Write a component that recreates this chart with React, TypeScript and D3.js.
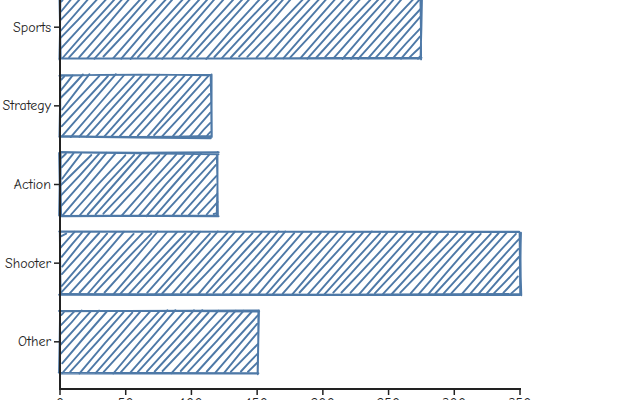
import React from 'react';
import * as d3 from 'd3';

// Sales by genre (the top of the chart is cropped in the reference)
const categories = ['Sports', 'Strategy', 'Action', 'Shooter', 'Other'];
const sales = [275, 115, 120, 350, 151];
const xTicks = [0, 50, 100, 150, 200, 250, 300, 350];

const WIDTH = 640;
const HEIGHT = 400;
const margin = { left: 60, right: 120, bottom: 11 };
const COLOR = '#4e79a7';
const AXIS = '#222';
const FONT = '"Comic Sans MS", "Comic Neue", "Noto Sans", cursive';

// small seeded generator so the hand-drawn wobble is the same on every render
function mulberry32(seed: number) {
  let a = seed;
  return () => {
    a |= 0;
    a = (a + 0x6d2b79f5) | 0;
    let t = Math.imul(a ^ (a >>> 15), 1 | a);
    t = (t + Math.imul(t ^ (t >>> 7), 61 | t)) ^ t;
    return ((t ^ (t >>> 14)) >>> 0) / 4294967296;
  };
}

function roughLine(rng: () => number, x1: number, y1: number, x2: number, y2: number, amt = 1) {
  const j = () => (rng() - 0.5) * 2 * amt;
  const len = Math.hypot(x2 - x1, y2 - y1);
  const bow = (rng() - 0.5) * Math.min(len * 0.012, 2);
  const nx = -(y2 - y1) / (len || 1);
  const ny = (x2 - x1) / (len || 1);
  const mx = (x1 + x2) / 2 + nx * bow;
  const my = (y1 + y2) / 2 + ny * bow;
  return `M${(x1 + j()).toFixed(1)},${(y1 + j()).toFixed(1)}Q${mx.toFixed(1)},${my.toFixed(1)} ${(x2 + j()).toFixed(1)},${(y2 + j()).toFixed(1)}`;
}

function roughRect(rng: () => number, x0: number, y0: number, x1: number, y1: number) {
  const parts: string[] = [];
  const edges: [number, number, number, number][] = [
    [x0, y0, x1, y0],
    [x1, y0, x1, y1],
    [x1, y1, x0, y1],
    [x0, y1, x0, y0],
  ];
  edges.forEach(([a, b, c, d]) => {
    parts.push(roughLine(rng, a, b, c, d, 1));
    parts.push(roughLine(rng, a, b, c, d, 1.3));
  });
  return parts.join('');
}

function hachure(rng: () => number, x0: number, y0: number, x1: number, y1: number, gap = 8.5, t = 0.9) {
  const parts: string[] = [];
  const cStart = x0 + t * y0;
  const cEnd = x1 + t * y1;
  for (let c = cStart + gap / 2; c < cEnd; c += gap) {
    const yA = Math.max(y0, (c - x1) / t);
    const yB = Math.min(y1, (c - x0) / t);
    if (yB - yA < 1) continue;
    parts.push(roughLine(rng, c - t * yA, yA, c - t * yB, yB, 1.3));
  }
  return parts.join('');
}

export default function App() {
  const x = d3
    .scaleLinear()
    .domain([0, 350])
    .range([margin.left, WIDTH - margin.right]);

  const axisY = HEIGHT - margin.bottom;
  const y = d3
    .scaleBand<string>()
    .domain(categories)
    .range([-20, axisY])
    .padding(0.2);

  const rng = mulberry32(7);

  const bars = categories.map((cat, i) => {
    const x0 = x(0);
    const x1 = x(sales[i]);
    const y0 = y(cat)!;
    const y1 = y0 + y.bandwidth();
    return {
      cat,
      fill: hachure(rng, x0 + 1, y0 + 1, x1 - 1, y1 - 1),
      outline: roughRect(rng, x0, y0, x1, y1),
    };
  });

  return (
    <div style={{ position: 'absolute', left: 0, top: 0 }}>
      <svg width={WIDTH} height={HEIGHT} style={{ display: 'block' }}>
        {bars.map(b => (
          <g key={b.cat}>
            <path d={b.fill} fill="none" stroke={COLOR} strokeWidth={1.9} strokeLinecap="round" />
            <path d={b.outline} fill="none" stroke={COLOR} strokeWidth={1.9} strokeLinecap="round" />
          </g>
        ))}

        {/* y axis */}
        <line x1={x(0)} x2={x(0)} y1={-5} y2={axisY + 1} stroke={AXIS} strokeWidth={2} />
        {categories.map(cat => {
          const cy = y(cat)! + y.bandwidth() / 2;
          return (
            <g key={cat}>
              <line x1={x(0) - 6} x2={x(0)} y1={cy} y2={cy} stroke={AXIS} strokeWidth={1.5} />
              <text
                x={x(0) - 9}
                y={cy}
                dy="0.32em"
                textAnchor="end"
                fontFamily={FONT}
                fontSize={14}
                fill="#222"
              >
                {cat}
              </text>
            </g>
          );
        })}

        {/* x axis */}
        <line x1={x(0) - 1} x2={x(350) + 1} y1={axisY} y2={axisY} stroke={AXIS} strokeWidth={2.2} />
        {xTicks.map(t => (
          <g key={t}>
            <line x1={x(t)} x2={x(t)} y1={axisY} y2={axisY + 6} stroke={AXIS} strokeWidth={1.5} />
            <text
              x={x(t)}
              y={axisY + 9}
              dy="0.71em"
              textAnchor="middle"
              fontFamily={FONT}
              fontSize={14}
              fill="#222"
            >
              {t}
            </text>
          </g>
        ))}
      </svg>
    </div>
  );
}
